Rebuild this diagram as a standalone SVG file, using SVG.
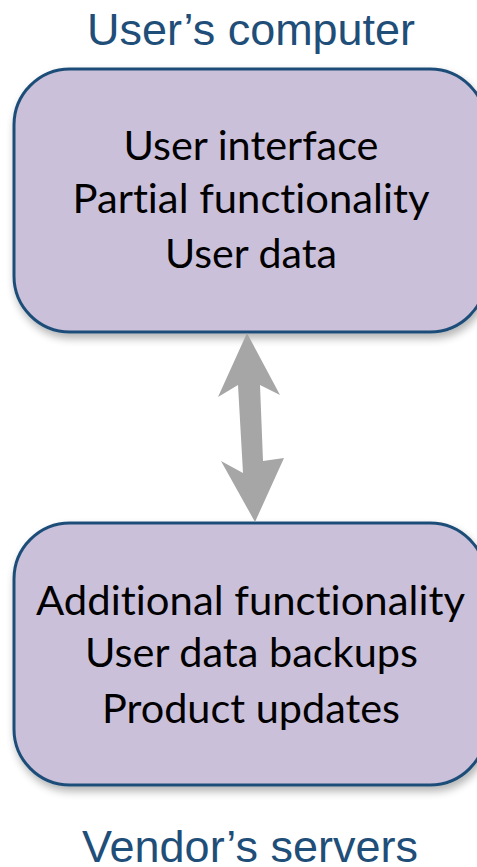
<svg xmlns="http://www.w3.org/2000/svg" width="477" height="867" viewBox="0 0 477 867">
<defs>
<filter id="sh" x="-10%" y="-10%" width="130%" height="130%">
<feGaussianBlur in="SourceAlpha" stdDeviation="4"/>
<feOffset dx="2" dy="5" result="b"/>
<feComponentTransfer><feFuncA type="linear" slope="0.3"/></feComponentTransfer>
<feMerge><feMergeNode/><feMergeNode in="SourceGraphic"/></feMerge>
</filter>
</defs>
<style>
.box{fill:#CBC0DA;stroke:#1F4E79;stroke-width:3}
.title{font-family:"Liberation Sans",Arial,sans-serif;font-size:45px;fill:#1F4E79;text-anchor:middle}
.body{font-family:Lato,"Open Sans",sans-serif;font-size:40px;fill:#000;text-anchor:middle;font-variant-ligatures:none}
</style>
<rect width="477" height="867" fill="#fff"/>
<text class="title" x="251" y="45" textLength="328" lengthAdjust="spacingAndGlyphs">User’s computer</text>
<g id="user-computer">
<rect class="box" x="14" y="69" width="472" height="263" rx="56" ry="56" filter="url(#sh)"/>
<text class="body" x="251" y="160" textLength="255" lengthAdjust="spacingAndGlyphs">User interface</text>
<text class="body" x="251" y="213" textLength="357" lengthAdjust="spacingAndGlyphs">Partial functionality</text>
<text class="body" x="251" y="268" textLength="172" lengthAdjust="spacingAndGlyphs">User data</text>
</g>
<g id="vendor-servers">
<rect class="box" x="14" y="523" width="472" height="262" rx="56" ry="56" filter="url(#sh)"/>
<text class="body" x="250.5" y="615" textLength="429" lengthAdjust="spacingAndGlyphs">Additional functionality</text>
<text class="body" x="251.5" y="667" textLength="333" lengthAdjust="spacingAndGlyphs">User data backups</text>
<text class="body" x="251" y="723" textLength="298" lengthAdjust="spacingAndGlyphs">Product updates</text>
</g>
<text class="title" x="250" y="862" textLength="336" lengthAdjust="spacingAndGlyphs">Vendor’s servers</text>
<g id="connectors">
<polygon fill="#A6A6A6" points="247,333 280,395 260,385 263,461 284,458 255,522 221,461 243,473 238,385 218,397"/>
</g>
</svg>
